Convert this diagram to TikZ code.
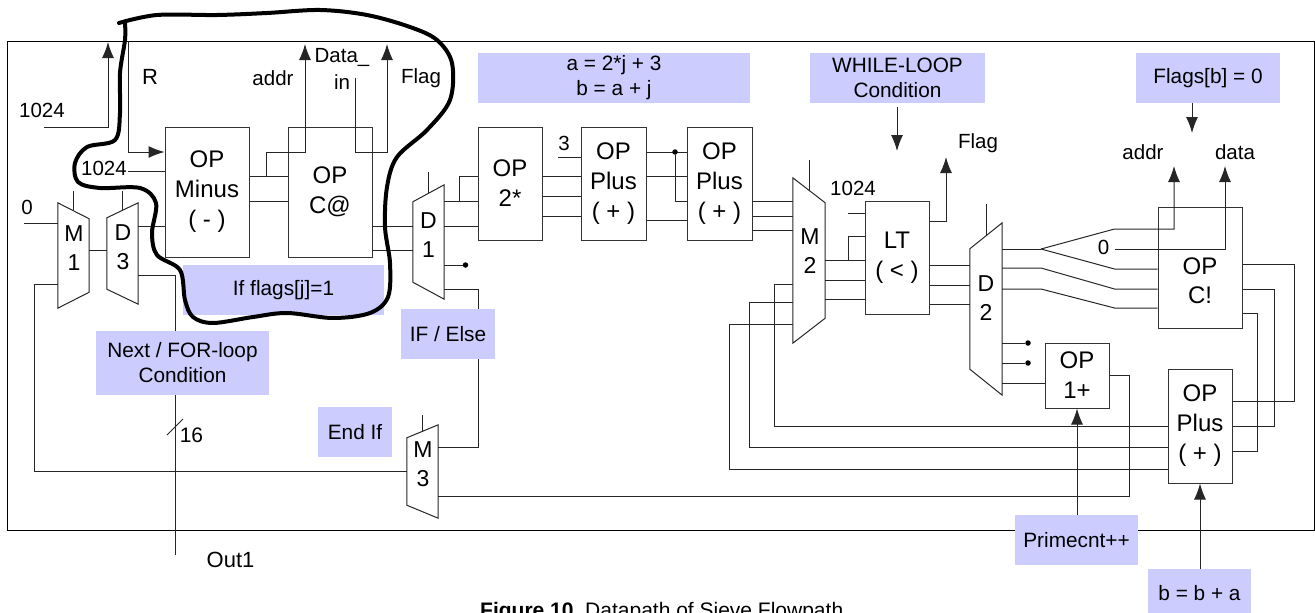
\documentclass[tikz,border=0pt]{standalone}
\usepackage{fontspec}
\setmainfont{Liberation Sans}
\usetikzlibrary{arrows.meta}
\definecolor{lblblue}{HTML}{CCCCFF}
\tikzset{
  wire/.style={line width=1pt, draw=black!85},
  arr/.style={wire, -{Latex[length=16pt,width=12pt]}},
  opbox/.style={draw=black!80, line width=1pt, inner sep=0pt, align=center, font=\fontsize{24}{30}\selectfont},
  optext/.style={inner sep=0pt, align=center, font=\fontsize{24}{29}\selectfont},
  muxframe/.style={inner sep=0pt, minimum width=31pt},
  muxtext/.style={inner sep=0pt, align=center, font=\fontsize{23}{29}\selectfont},
  lbl/.style={inner sep=0pt, fill=lblblue, align=center, font=\fontsize{20.8}{25}\selectfont},
  txt/.style={inner sep=0pt, font=\fontsize{20.5}{24}\selectfont},
  dot/.style={circle, fill=black, inner sep=0pt, minimum size=5.5pt}
}
% mux outlines, #1 node, #2 how far the short side is cut
\newcommand{\muxright}[2]{\draw[line width=1pt, draw=black!85] (#1.north west) -- ([yshift=-#2pt]#1.north east) -- ([yshift=#2pt]#1.south east) -- (#1.south west) -- cycle;}
\newcommand{\muxleft}[2]{\draw[line width=1pt, draw=black!85] (#1.north east) -- ([yshift=-#2pt]#1.north west) -- ([yshift=#2pt]#1.south west) -- (#1.south east) -- cycle;}
\begin{document}
\begin{tikzpicture}[x=1pt, y=-1pt]
    \useasboundingbox (0,0) rectangle (1315,613);
    \node[draw=black, line width=1pt, minimum width=1307pt, minimum height=489pt, inner sep=0pt] (FRAME) at (660.5,285.5) {};

    % operator boxes
    \node[opbox, minimum width=84pt, minimum height=130pt] (MINUS) at (207,192) {OP\\Minus\\( - )};
    \node[opbox, minimum width=84pt, minimum height=130pt] (CFETCH) at (330,192) {OP\\C@};
    \node[opbox, minimum width=64pt, minimum height=113pt] (TWOS) at (510,183.5) {OP\\2*};
    \node[opbox, minimum width=65pt, minimum height=113pt] (PLUSA) at (613.5,183.5) {OP\\Plus\\( + )};
    \node[opbox, minimum width=65pt, minimum height=113pt] (PLUSB) at (719.5,183.5) {OP\\Plus\\( + )};
    \node[opbox, minimum width=64pt, minimum height=113pt] (LT) at (897,257.5) {LT\\( < )};
    \node[opbox, minimum width=84pt, minimum height=121pt] (CSTORE) at (1200,267.5) {};
    \node[optext] (CSTOREt) at (1200,281) {OP\\C!};
    \node[opbox, minimum width=64pt, minimum height=65pt] (ONEP) at (1077,375.5) {OP\\1+};
    \node[opbox, minimum width=64pt, minimum height=114pt] (PLUSC) at (1200,426) {OP\\Plus\\( + )};

    % muxes
    \node[muxframe, minimum height=105pt] (M1) at (73.5,255.5) {};
    \node[muxframe, minimum height=101pt] (D3) at (122.5,253.5) {};
    \node[muxframe, minimum height=114pt] (D1) at (428.5,242) {};
    \node[muxframe, minimum width=32pt, minimum height=165pt] (M2) at (809,260.5) {};
    \node[muxframe, minimum width=32pt, minimum height=172pt] (D2) at (986,309) {};
    \node[muxframe, minimum height=93pt] (M3) at (422.5,471.5) {};
    \muxright{M1}{16} \muxleft{D3}{15} \muxleft{D1}{17}
    \muxright{M2}{25} \muxleft{D2}{26} \muxleft{M3}{13}
    \node[muxtext] (M1t) at (74,248) {M\\1};
    \node[muxtext] (D3t) at (123,247) {D\\3};
    \node[muxtext] (D1t) at (428.5,235) {D\\1};
    \node[muxtext] (M2t) at (810,251) {M\\2};
    \node[muxtext] (D2t) at (986,298.5) {D\\2};
    \node[muxtext] (M3t) at (423,464.5) {M\\3};

    % free wire ends
    \coordinate (lim) at (44,127);
    \coordinate (limup) at (108,42);
    \coordinate (rtop) at (128,41);
    \coordinate (limb) at (128,171);
    \coordinate (zero) at (24,223);
    \coordinate (addrup) at (305,44);
    \coordinate (datain) at (355,78);
    \coordinate (flagup) at (387,44);
    \coordinate (out) at (175,555);
    \coordinate (slasha) at (167,435);
    \coordinate (slashb) at (183,419);
    \coordinate (three) at (558,157);
    \coordinate (limc) at (848,213);
    \coordinate (ltup) at (946,157);
    \coordinate (fork) at (1041,249);
    \coordinate (forkb) at (1041,268);
    \coordinate (forkc) at (1041,289);
    \coordinate (zerob) at (1114.5,249);
    \coordinate (storeaddr) at (1174,166);
    \coordinate (storedata) at (1225,166);

    % left part
    \draw[arr] (lim) -| (limup);
    \draw[arr] (rtop) |- (MINUS.west |- 0,152);
    \draw[wire] (limb) -- (MINUS.west |- 0,171);
    \draw[wire] (zero) -- (M1.west |- 0,223);
    \draw[wire] (M1.north |- 0,191) -- (M1.north |- 0,210);
    \draw[wire] (D3.north |- 0,191) -- (D3.north |- 0,210);
    \draw[wire] (M1.east |- 0,250) -- (D3.west |- 0,250);
    \draw[wire] (D3.east |- 0,226) -- (MINUS.west |- 0,226);
    \draw[wire] (D3.east |- 0,275) -| (out);
    \draw[wire] (slasha) -- (slashb);
    \draw[wire] (M1.west |- 0,284) -- (34,284) |- (M3.west |- 0,471);
    \draw[wire] (MINUS.east |- 0,176) -- (CFETCH.west |- 0,176);
    \draw[wire] (MINUS.east |- 0,201) -- (CFETCH.west |- 0,201);
    \draw[arr] (266,176) |- (305,152) -- (addrup);
    \draw[arr] (datain) |- (387,152) -- (flagup);
    \draw[wire] (CFETCH.east |- 0,226) -- (D1.west |- 0,226);
    \draw[wire] (CFETCH.east |- 0,250) -- (D1.west |- 0,250);

    % D1 to the adders
    \draw[wire] (D1.north |- 0,172) -- (D1.north |- 0,193);
    \draw[wire] (D1.east |- 0,201) -- (TWOS.west |- 0,201);
    \draw[wire] (459,201) |- (TWOS.west |- 0,176);
    \draw[wire] (D1.east |- 0,226) -- (TWOS.west |- 0,226);
    \node[dot] (DOTa) at (465.5,265) {};
    \draw[wire] (D1.east |- 0,265) -- (DOTa);
    \draw[wire] (D1.east |- 0,289) -| (478,447) -- (M3.east |- 0,447);
    \draw[wire] (TWOS.east |- 0,176) -- (PLUSA.west |- 0,176);
    \draw[wire] (TWOS.east |- 0,196) -- (PLUSA.west |- 0,196);
    \draw[wire] (TWOS.east |- 0,216) -- (PLUSA.west |- 0,216);
    \draw[wire] (three) -- (PLUSA.west |- 0,157);
    \draw[wire] (PLUSA.east |- 0,152) -- (PLUSB.west |- 0,152);
    \draw[wire] (PLUSA.east |- 0,176) -- (PLUSB.west |- 0,176);
    \draw[wire] (PLUSA.east |- 0,220) -- (PLUSB.west |- 0,220);
    \node[dot] (DOTb) at (675,152) {};
    \draw[wire] (DOTb) |- (PLUSB.west |- 0,201);
    \draw[wire] (PLUSB.east |- 0,201) -- (M2.west |- 0,201);
    \draw[wire] (PLUSB.east |- 0,216) -- (M2.west |- 0,216);
    \draw[wire] (PLUSB.east |- 0,230) -- (M2.west |- 0,230);

    % M2, LT, D2
    \draw[wire] (M2.north |- 0,160) -- (M2.north |- 0,191);
    \draw[wire] (M2.east |- 0,260) -- (LT.west |- 0,260);
    \draw[wire] (848,260) |- (LT.west |- 0,236);
    \draw[wire] (M2.east |- 0,280) -- (LT.west |- 0,280);
    \draw[wire] (M2.east |- 0,299) -- (LT.west |- 0,299);
    \draw[wire] (limc) -- (LT.west |- 0,213);
    \draw[arr] (LT.east |- 0,221) -| (ltup);
    \draw[wire] (LT.east |- 0,265) -- (D2.west |- 0,265);
    \draw[wire] (LT.east |- 0,285) -- (D2.west |- 0,285);
    \draw[wire] (LT.east |- 0,304) -- (D2.west |- 0,304);
    \draw[wire] (D2.north |- 0,204) -- (D2.north |- 0,236);

    % D2 to C!
    \draw[wire] (D2.east |- 0,249) -- (fork);
    \draw[arr] (fork) -- (1114.5,229) -| (storeaddr);
    \draw[wire] (fork) -- (1114.5,269) -- (CSTORE.west |- 0,269);
    \draw[arr] (zerob) -| (storedata);
    \draw[wire] (D2.east |- 0,268) -- (forkb) -- (1114.5,289) -- (CSTORE.west |- 0,289);
    \draw[wire] (D2.east |- 0,289) -- (forkc) -- (1114.5,308) -- (CSTORE.west |- 0,308);
    \node[dot] (DOTc) at (1028,343) {};
    \node[dot] (DOTd) at (1028,363) {};
    \draw[wire] (D2.east |- 0,343) -- (DOTc);
    \draw[wire] (D2.east |- 0,363) -- (DOTd);
    \draw[wire] (D2.east |- 0,383) -- (ONEP.west |- 0,383);

    % feedback
    \draw[wire] (CSTORE.east |- 0,264) -| (1294,401) -- (PLUSC.east |- 0,401);
    \draw[wire] (CSTORE.east |- 0,289) -| (1274.5,426) -- (PLUSC.east |- 0,426);
    \draw[wire] (CSTORE.east |- 0,313) -| (1257.5,451) -- (PLUSC.east |- 0,451);
    \draw[wire] (M2.west |- 0,284) -| (774,426) -- (PLUSC.west |- 0,426);
    \draw[wire] (M2.west |- 0,302) -| (749,447) -- (PLUSC.west |- 0,447);
    \draw[wire] (M2.west |- 0,324) -| (729,469) -- (PLUSC.west |- 0,469);
    \draw[wire] (ONEP.east |- 0,375) -| (1129,496) -- (M3.east |- 0,496);
    \draw[wire] (M3.north |- 0,415) -- (M3.north |- 0,432);

    % labels on blue
    \node[lbl, minimum width=272pt, minimum height=50pt] (ABEQ) at (614,78) {a = 2*j + 3\\b = a + j};
    \node[lbl, minimum width=175pt, minimum height=50pt] (WHILE) at (897.5,78) {WHILE-LOOP\\Condition};
    \node[lbl, minimum width=144pt, minimum height=50pt] (FLAGS) at (1208,78) {Flags[b] = 0};
    \node[lbl, minimum width=201pt, minimum height=50pt] (IFFLAGS) at (283.5,290) {If flags[j]=1};
    \node[lbl, minimum width=94pt, minimum height=50pt] (IFELSE) at (448,334) {IF / Else};
    \node[lbl, minimum width=173pt, minimum height=64pt] (NEXT) at (182.5,363) {Next / FOR-loop\\Condition};
    \node[lbl, minimum width=74pt, minimum height=50pt] (ENDIF) at (355,432) {End If};
    \node[lbl, minimum width=123pt, minimum height=50pt] (PRIME) at (1076.5,540) {Primecnt++};
    \node[lbl, minimum width=103pt, minimum height=48pt] (BADD) at (1199.5,593) {b = b + a};
    \coordinate (whiledown) at (897,151);
    \coordinate (flagsdown) at (1192,133);
    \draw[arr, shorten <=4pt] (WHILE.south -| whiledown) -- (whiledown);
    \draw[arr] (FLAGS.south -| flagsdown) -- (flagsdown);
    \draw[arr] (PRIME.north -| ONEP.south) -- (ONEP.south);
    \draw[arr] (BADD.north -| PLUSC.south) -- (PLUSC.south);

    % small texts
    \node[txt] (Tlim) at (42,110) {1024};
    \node[txt] (Tlimb) at (104,168) {1024};
    \node[txt] (Tzero) at (27,207) {0};
    \node[txt, font=\fontsize{22}{24}\selectfont] (Tr) at (150,77) {R};
    \node[txt] (Taddr) at (273,78) {addr};
    \node[txt] (Tdata) at (342,57.5) {Data\_};
    \node[txt] (Tin) at (342,82) {in};
    \node[txt] (Tflag) at (421,78) {Flag};
    \node[txt, font=\fontsize{21}{24}\selectfont] (T16) at (191.5,435) {16};
    \node[txt, font=\fontsize{22}{24}\selectfont] (Tout) at (230.5,560) {Out1};
    \node[txt] (Tthree) at (564,143) {3};
    \node[txt] (Tlimc) at (853,188) {1024};
    \node[txt] (Tflagb) at (978,143) {Flag};
    \node[txt] (Taddrb) at (1143,152) {addr};
    \node[txt] (Tdatab) at (1235,152) {data};
    \node[txt] (Tzerob) at (1103.5,247) {0};
    \node[txt, anchor=base west, font=\fontsize{21}{24}\selectfont] (CAPTION) at (480,617) {\textbf{Figure 10}\ \ Datapath of Sieve Flowpath};

    % the hand drawn loop
    \draw[line width=4pt, line cap=round, line join=round] plot[smooth, tension=0.55] coordinates {(119,23) (157,15) (217,15) (267,13) (320,10) (367,15) (410,27) (437,40) (452,63) (450,100) (427,130) (397,157) (387,187) (385,227) (390,263) (388,297) (370,313) (333,318) (287,313) (253,317) (213,323) (193,317) (185,300) (180,270) (157,255) (152,233) (156,203) (140,188) (100,188) (78,182) (75,163) (87,147) (115,140) (120,113) (120,73) (125,40) (125,23)};
\end{tikzpicture}
\end{document}
